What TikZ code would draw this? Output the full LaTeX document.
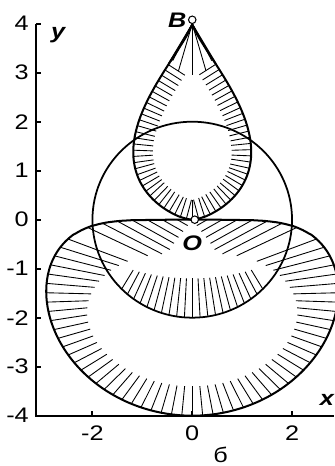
\documentclass[tikz,border=0pt]{standalone}
\usepackage{fontspec}
\setmainfont{Liberation Sans}[FakeStretch=1.2]
\usetikzlibrary{decorations.markings}

% one hatch stroke of the lower loop: #1 polar angle, #2 radius
\newcommand\lowhatch[2]{%
  \pgfmathsetmacro\hc{cos(#1)}%
  \pgfmathsetmacro\ha{#1-180+30*\hc*(1.6-0.6*abs(\hc))}%
  \pgfmathsetmacro\hq{\hc*\hc*\hc*\hc}%
  \pgfmathsetmacro\hl{min(0.6+0.75*\hq*\hq, 0.8*#2)}%
  \draw[hatch] (#1:#2) -- ++(\ha:\hl);}

\begin{document}
\begin{tikzpicture}[x=1cm, y=0.982cm,
    curve/.style={line width=1.15pt},
    hatch/.style={line width=0.5pt},
    axisline/.style={line width=1.15pt},
    numlab/.style={inner sep=0pt, font=\fontsize{12}{14}\selectfont},
    varlab/.style={inner sep=0pt, font=\fontsize{12}{14}\selectfont\bfseries\itshape},
    dot/.style={circle, draw, fill=white, line width=0.6pt, inner sep=0pt, minimum size=0.15cm},
    tearhatch/.style={postaction={decorate}, decoration={markings,
      mark=between positions 0.005 and 1 step 0.125cm with {\draw[hatch] (0,0) -- (0,0.4);}}}]
  \useasboundingbox (-3.853,-5.027) rectangle (2.847,4.484);

  % hatching of the upper loop
  \path[tearhatch] plot[domain=63.4:0.5, samples=80] ({-4.15*sin(\x)^1.345*cos(\x)^2.554}, {4*sin(\x)^2})
    -- plot[domain=0.5:63.4, samples=80] ({4.15*sin(\x)^1.345*cos(\x)^2.554}, {4*sin(\x)^2});
  \foreach \a/\l in {239.5/0.95, 241/0.9, 242.5/0.85, 254/1.0, 270/1.05, 286/1.0, 297.5/0.85, 299/0.9, 300.5/0.95}
    \draw[hatch] (0,4) -- ++(\a:\l);

  % hatching of the lower loop
  \foreach \tht in {189,192,...,351} {
    \pgfmathsetmacro\rlow{4*abs(sin(\tht))^0.25}
    \lowhatch{\tht}{\rlow}}
  \foreach \rr in {0.3,0.6,...,2.4}
    \foreach \sg in {1,-1} {
      \pgfmathsetmacro\tht{270-\sg*(90-asin((\rr/4)^4))}
      \lowhatch{\tht}{\rr}}

  % hatching inside the circle
  \foreach \tht in {225,229.5,...,315} {
    \pgfmathsetmacro\ca{\tht-180-20*cos(\tht)}
    \pgfmathsetmacro\cl{0.8-0.35*((\tht-270)/45)*((\tht-270)/45)}
    \draw[hatch] (\tht:2) -- ++(\ca:\cl);}

  % curves
  \draw[line width=1pt] (0,0) circle[radius=2];
  \draw[curve] (0,0) -- plot[domain=0.5:89.5, samples=120] ({4.15*sin(\x)^1.345*cos(\x)^2.554}, {4*sin(\x)^2})
    -- (0,4) -- plot[domain=89.5:0.5, samples=120] ({-4.15*sin(\x)^1.345*cos(\x)^2.554}, {4*sin(\x)^2}) -- cycle;
  \draw[curve] (0,0) -- plot[domain=180.01:359.99, samples=400] (\x:{4*abs(sin(\x))^0.25}) -- cycle;

  % axes
  \draw[axisline] (-3.134,4) -- (-3.134,-4) -- (2.847,-4);
  \foreach \y in {-4,...,4} {
    \draw[axisline] (-3.134,\y) -- ++(0.1,0);
    \node[numlab, anchor=east] (ly\y) at (-3.27,\y) {\y};
  }
  \foreach \x in {-2,0,2} {
    \draw[axisline] (\x,-4) -- ++(0,0.1);
    \node[numlab, anchor=north] (lx\x) at (\x,-4.2) {\x};
  }
  \node[varlab] (ylab) at (-2.69,3.77) {y};
  \node[varlab] (xlab) at (2.7,-3.68) {x};

  % points
  \node[dot] (B) at (0,4.08) {};
  \node[dot] (O) at (0.05,0) {};
  \node[varlab] (Blab) at (-0.3,4.07) {B};
  \node[varlab] (Olab) at (0,-0.48) {O};
  \node[numlab] (cap) at (0.57,-4.8) {б};
\end{tikzpicture}
\end{document}
